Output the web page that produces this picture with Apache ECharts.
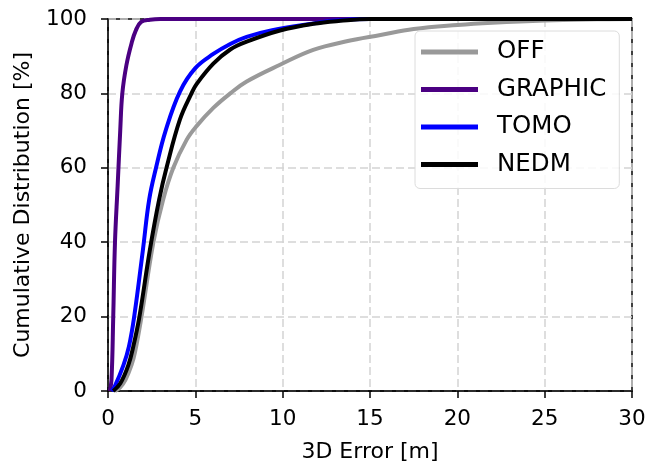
<!DOCTYPE html>
<html>
<head>
<meta charset="utf-8">
<script src="https://cdn.jsdelivr.net/npm/echarts@6/dist/echarts.min.js"></script>
<style>
html,body{margin:0;padding:0;background:#fff;}
#chart{width:649px;height:468px;}
</style>
</head>
<body>
<div id="chart"></div>
<script>
const seriesNames = ['OFF', 'GRAPHIC', 'TOMO', 'NEDM'];
const xTicks = [0, 5, 10, 15, 20, 25, 30];
const yTicks = [0, 20, 40, 60, 80, 100];

const offErr = [0.4, 0.7, 1.0, 1.35, 1.55, 1.92, 2.6, 3.16, 3.74, 4.5, 5.07, 6.03, 7.0, 7.94, 9.85, 11.75, 13.66, 15.6, 17.5, 20, 22, 25, 28, 30];
const offCdf = [0, 1, 3, 7, 10.5, 20, 40, 51.5, 60, 67.5, 71.2, 76.1, 80, 83.2, 87.7, 91.7, 94, 95.7, 97.3, 98.4, 99.0, 99.6, 99.9, 100];

const graphicErr = [0.1, 0.2, 0.3, 0.4, 0.55, 0.7, 0.82, 1.05, 1.35, 1.6, 1.9, 2.4, 3, 4, 30];
const graphicCdf = [0, 3, 20, 40, 55, 70, 80, 87.5, 93.5, 97, 99.2, 99.8, 100, 100, 100];

const tomoErr = [0.2, 0.4, 0.88, 1.2, 1.5, 2.0, 2.36, 2.75, 3.3, 4.12, 5.0, 6.03, 7.0, 7.94, 9.4, 11.75, 13, 15, 20, 30];
const tomoCdf = [0, 1.4, 6.9, 12, 20, 38, 51.5, 60, 70, 80.5, 86.8, 90.6, 93.3, 95.2, 97, 98.8, 99.6, 100, 100, 100];

const nedmErr = [0.3, 0.7, 1.16, 1.45, 1.8, 2.4, 2.93, 3.35, 4.12, 4.78, 5.07, 6.03, 7.0, 7.94, 9.85, 11.75, 13.3, 15, 20, 30];
const nedmCdf = [0, 2, 6.9, 12, 20, 38, 51.5, 60, 73, 80, 82.5, 88, 91.8, 93.9, 96.9, 98.7, 99.5, 100, 100, 100];

const colors = ['#999999', '#4b0082', '#0000ff', '#000000'];

function pairs(xs, ys) { return xs.map((x, i) => [x, ys[i]]); }
const allData = [pairs(offErr, offCdf), pairs(graphicErr, graphicCdf), pairs(tomoErr, tomoCdf), pairs(nedmErr, nedmCdf)];

const font = 'DejaVu Sans';
const chart = echarts.init(document.getElementById('chart'), null, {renderer: 'canvas'});
chart.setOption({
  animation: false,
  backgroundColor: '#fff',
  textStyle: {fontFamily: font},
  grid: {left: 108, right: 17, top: 19, bottom: 76, show: true, borderColor: '#000', borderWidth: 1.5, backgroundColor: 'transparent'},
  legend: {
    orient: 'vertical', left: 415, top: 31,
    data: seriesNames,
    icon: 'rect', itemWidth: 57, itemHeight: 5, itemGap: 11.5,
    padding: [8, 13, 11, 6],
    backgroundColor: 'rgba(255,255,255,0.85)', borderColor: '#dcdcdc', borderWidth: 1, borderRadius: 5,
    textStyle: {fontSize: 24.5, lineHeight: 26, color: '#000', fontFamily: font, padding: [0, 0, 0, 14]}
  },
  xAxis: {
    type: 'value', min: 0, max: 30, interval: 5,
    name: '3D Error [m]', nameLocation: 'middle', nameGap: 50,
    nameTextStyle: {fontSize: 22, color: '#000', fontFamily: font},
    axisLine: {show: true, lineStyle: {color: '#000', width: 1.5}},
    axisTick: {show: true, length: 7, lineStyle: {color: '#000', width: 1.5}},
    axisLabel: {fontSize: 21.5, color: '#000', margin: 17, fontFamily: font, formatter: v => xTicks.includes(v) ? String(v) : ''},
    splitLine: {show: true, lineStyle: {color: '#d3d3d3', width: 1.5, type: [8, 4]}}
  },
  yAxis: {
    type: 'value', min: 0, max: 100, interval: 20,
    name: 'Cumulative Distribution [%]', nameLocation: 'middle', nameGap: 74,
    nameTextStyle: {fontSize: 22, color: '#000', fontFamily: font},
    axisLine: {show: true, lineStyle: {color: '#000', width: 1.5}},
    axisTick: {show: true, length: 7, lineStyle: {color: '#000', width: 1.5}},
    axisLabel: {fontSize: 21.5, color: '#000', margin: 21, fontFamily: font, formatter: v => yTicks.includes(v) ? String(v) : ''},
    splitLine: {show: true, lineStyle: {color: '#d3d3d3', width: 1.5, type: [8, 4]}}
  },
  series: seriesNames.map((n, i) => ({
    name: n, type: 'line', data: allData[i], showSymbol: false, symbol: 'none',
    smooth: 0.4, clip: true,
    color: colors[i],
    lineStyle: {color: colors[i], width: 4},
    z: 2 + i
  }))
});
</script>
</body>
</html>
